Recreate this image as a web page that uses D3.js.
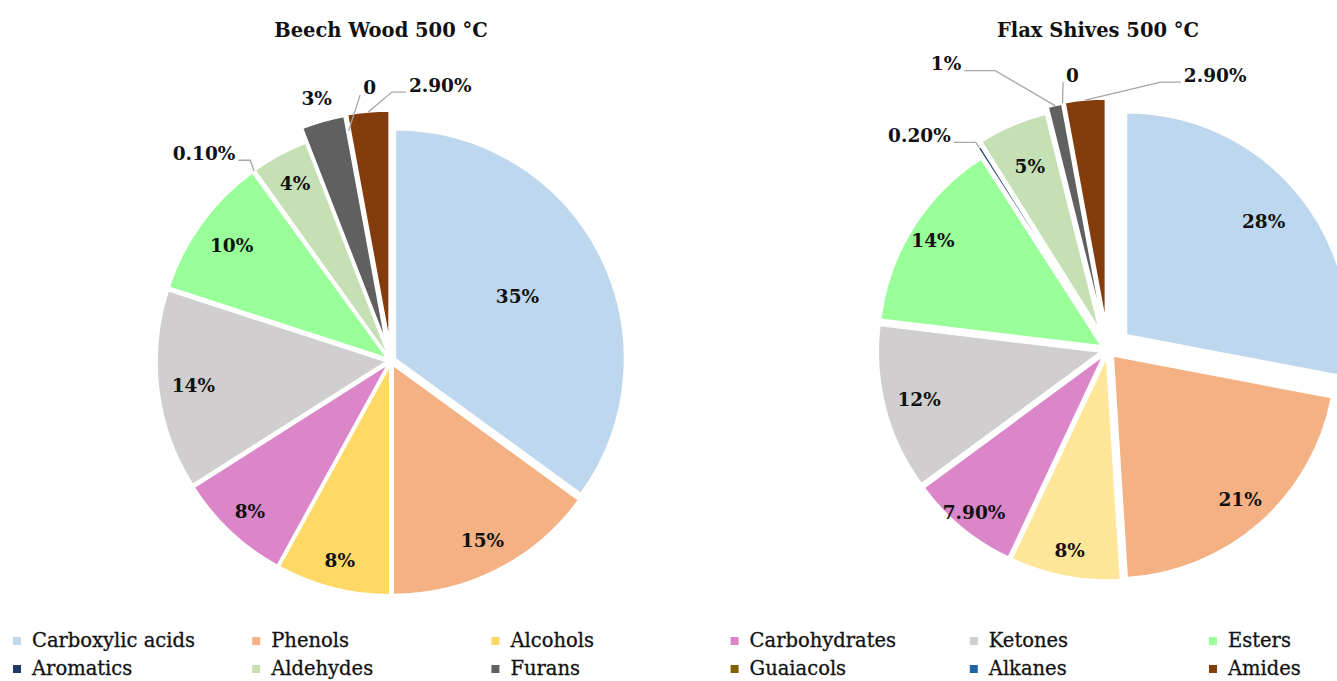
<!DOCTYPE html>
<html>
<head>
<meta charset="utf-8">
<script src="https://cdn.jsdelivr.net/npm/d3@7"></script>
<style>
body { margin: 0; background: #fff; }
text { font-family: "DejaVu Serif", serif; fill: #111; }
</style>
</head>
<body>
<svg id="chart"></svg>
<script>
let w = 1337
let h = 681

// data
let categories = ["Carboxylic acids", "Phenols", "Alcohols", "Carbohydrates", "Ketones", "Esters",
  "Aromatics", "Aldehydes", "Furans", "Guaiacols", "Alkanes", "Amides"]
let beechValues = [35, 15, 8, 8, 14, 10, 0.1, 4, 3, 0, 0, 2.9]
let beechLabels = ["35%", "15%", "8%", "8%", "14%", "10%", "0.10%", "4%", "3%", "0", null, "2.90%"]
let flaxValues = [28, 21, 8, 7.9, 12, 14, 0.2, 5, 1, 0, 0, 2.9]
let flaxLabels = ["28%", "21%", "8%", "7.90%", "12%", "14%", "0.20%", "5%", "1%", "0", null, "2.90%"]
let titles = ["Beech Wood 500 °C", "Flax Shives 500 °C"]

let colors = ["#bdd7ee", "#f4b183", "#ffd966", "#da86c9", "#d0cece", "#99ff99",
  "#1f3864", "#c5e0b4", "#606060", "#806000", "#2064a8", "#843c0c"]
let flaxColors = colors.slice()
flaxColors[2] = "#ffe699"

// layout / style per pie
let pies = [
  {
    title: titles[0], values: beechValues, labels: beechLabels, colors: colors,
    cx: 391, cy: 361, r: 229,
    explode: [5, 5, 5, 5, 5, 5, 5, 5, 20, 5, 5, 21],
    labelR: [0.62, 0.88, 0.9, 0.9, 0.87, 0.86, 0, 0.88, 1.19, 0, 0, 0],
    outside: { 6: [-50, -18, 12], 9: [21, -43, 0], 11: [72, -27, 14] }
  },
  {
    title: titles[1], values: flaxValues, labels: flaxLabels, colors: flaxColors,
    cx: 1108, cy: 350, r: 222,
    explode: [24, 8, 8, 8, 8, 8, 18, 22, 28, 29, 29, 29],
    labelR: [0.91, 0.9, 0.92, 0.95, 0.88, 0.93, 0, 0.9, 0, 0, 0, 0],
    outside: { 6: [-60, -12, 22], 8: [-109, -42, 31], 9: [10, -28, 0], 11: [130, -25, 20] }
  }
]

let svg = d3.select("#chart").attr("width", w).attr("height", h)

let dir = (a) => [Math.sin(a), -Math.cos(a)]

pies.forEach((p) => {
  let g = svg.append("g")
  let pie = d3.pie().sort(null).value((d) => d)
  let arcs = pie(p.values)
  let arc = d3.arc().innerRadius(0).outerRadius(p.r)

  g.append("text")
    .attr("x", p.cx - 10)
    .attr("y", 37)
    .attr("text-anchor", "middle")
    .style("font-size", "19.5px")
    .style("font-weight", "bold")
    .text(p.title)

  g.selectAll("path")
    .data(arcs)
    .join("path")
    .attr("d", arc)
    .attr("fill", (d, i) => p.colors[i])
    .attr("stroke", "#fff")
    .attr("stroke-width", 1.5)
    .attr("transform", (d, i) => {
      let m = (d.startAngle + d.endAngle) / 2
      let v = dir(m)
      return `translate(${p.cx + v[0] * p.explode[i]},${p.cy + v[1] * p.explode[i]})`
    })

  arcs.forEach((d, i) => {
    let lab = p.labels[i]
    if (lab == null) return
    let m = (d.startAngle + d.endAngle) / 2
    let v = dir(m)
    let o = p.outside[i]
    if (!o) {
      g.append("text")
        .attr("x", p.cx + v[0] * p.r * p.labelR[i])
        .attr("y", p.cy + v[1] * p.r * p.labelR[i])
        .attr("dy", "0.35em")
        .attr("text-anchor", "middle")
        .style("font-size", "18.5px")
        .style("font-weight", "bold")
        .text(lab)
      return
    }
    // small slices: label outside with leader line
    let ax = p.cx + v[0] * (p.r + p.explode[i])
    let ay = p.cy + v[1] * (p.r + p.explode[i])
    let lx = ax + o[0]
    let ly = ay + o[1]
    let t = g.append("text")
      .attr("x", lx)
      .attr("y", ly)
      .attr("dy", "0.35em")
      .attr("text-anchor", "middle")
      .style("font-size", "18.5px")
      .style("font-weight", "bold")
      .text(lab)
    let half = t.node().getComputedTextLength() / 2
    let s = lx < ax ? 1 : -1
    let edge = lx + s * (half + 3)
    let yy = ly + 7
    g.append("path")
      .attr("d", d3.line()([[ax, ay], [edge + s * o[2], yy], [edge, yy]]))
      .attr("fill", "none")
      .attr("stroke", "#a6a6a6")
      .attr("stroke-width", 1.3)
  })
})

// legend
let legX = d3.scaleLinear().domain([0, 5]).range([32, 1228])
let leg = svg.append("g")
  .selectAll("g")
  .data(categories)
  .join("g")
  .attr("transform", (d, i) => `translate(${legX(i % 6)},${i < 6 ? 640 : 668})`)

leg.append("rect")
  .attr("x", -19)
  .attr("y", -3)
  .attr("width", 8)
  .attr("height", 8)
  .attr("fill", (d, i) => colors[i])

leg.append("text")
  .attr("x", 0)
  .attr("y", 0)
  .attr("dy", "0.35em")
  .style("font-size", "19.5px")
  .style("stroke", "#111")
  .style("stroke-width", 0.3)
  .text((d) => d)
</script>
</body>
</html>
